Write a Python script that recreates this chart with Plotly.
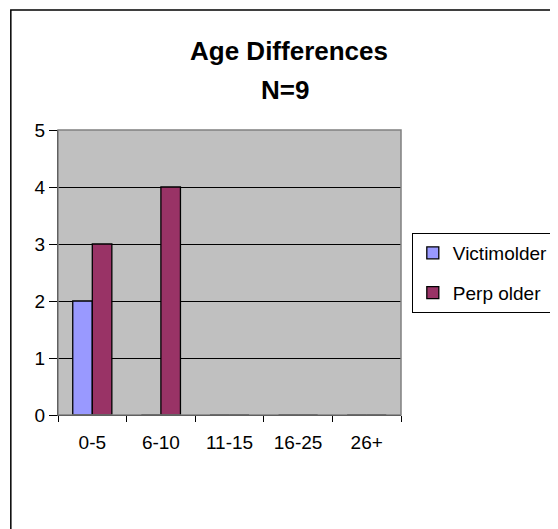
import plotly.graph_objects as go

# age gap buckets and counts
categories = ["0-5", "6-10", "11-15", "16-25", "26+"]
victim_older = [2, 0, 0, 0, 0]
perp_older = [3, 4, 0, 0, 0]

W, H = 558, 529
L, R, T, B = 50, 159, 122, 122
pw, ph = W - L - R, H - T - B

def px_x(x):
    return (x - L) / pw

def px_y(y):
    return (H - B - y) / ph

fig = go.Figure()
fig.add_trace(go.Bar(x=categories, y=victim_older, name="Victimolder", legendgroup="v",
                     marker=dict(color="#9999FF", line=dict(color="black", width=1.3))))
fig.add_trace(go.Bar(x=categories, y=perp_older, name="Perp older", legendgroup="p",
                     marker=dict(color="#993366", line=dict(color="black", width=1.3))))

fig.update_layout(
    width=W, height=H,
    margin=dict(l=L, r=R, t=T, b=B),
    paper_bgcolor="white",
    plot_bgcolor="#C0C0C0",
    barmode="group",
    bargap=0.43,
    bargroupgap=0,
    font=dict(family="Liberation Sans, Arial", size=19, color="black"),
    title=dict(text="<b>Age Differences</b>", x=281 / W, xanchor="center",
               y=1 - 43 / H, yanchor="middle", font=dict(size=26)),
    legend=dict(x=px_x(410), y=px_y(225), xanchor="left", yanchor="top",
                bordercolor="black", borderwidth=1, bgcolor="white",
                font=dict(size=19), tracegroupgap=12, itemwidth=30,
                traceorder="grouped"),
    showlegend=True,
)
fig.add_annotation(text="<b>N=9</b>", xref="paper", yref="paper",
                   x=px_x(281), y=px_y(82), xanchor="center", yanchor="middle",
                   showarrow=False, font=dict(size=26))

fig.update_xaxes(type="category", showline=True, linecolor="black", linewidth=1,
                 ticks="outside", tickson="boundaries", ticklen=6, tickcolor="black",
                 ticklabelstandoff=10, showgrid=False)
fig.update_yaxes(range=[0, 5], dtick=1, showgrid=True, gridcolor="black", gridwidth=1,
                 showline=True, linecolor="black", ticks="outside", ticklen=8,
                 tickcolor="black", zeroline=False)

# gray plot border on top and right
fig.add_shape(type="rect", xref="paper", yref="paper", x0=0, x1=1, y0=0, y1=1,
              line=dict(color="#808080", width=1.5))
# outer chart border
fig.add_shape(type="rect", xref="paper", yref="paper",
              x0=px_x(2), x1=px_x(556), y0=px_y(527), y1=px_y(2),
              line=dict(color="black", width=1.5))

fig.write_html("out.html")
